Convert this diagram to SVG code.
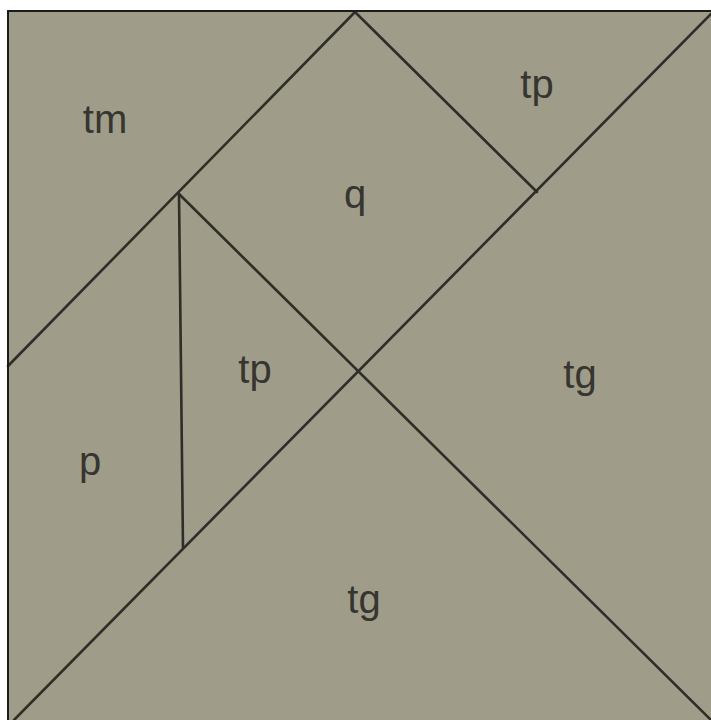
<svg xmlns="http://www.w3.org/2000/svg" width="711" height="720" viewBox="0 0 711 720">
<style>
.pc{fill:#9f9d8a;stroke:none}
.ln{stroke:#2e2d27;stroke-width:2.6;fill:none;stroke-linecap:round}
.bd{stroke:#1c1c1a;stroke-width:2;fill:none}
.lb{font-family:"Liberation Sans",Arial,sans-serif;font-size:40px;fill:#36352f;text-anchor:middle}
</style>
<rect x="0" y="0" width="711" height="720" fill="#ffffff"/>
<rect x="8" y="11" width="703" height="709" fill="#9f9d8a"/>
<g id="tm"><polygon class="pc" points="8,11 355,11 8,366"/><text class="lb" x="105" y="133">tm</text></g>
<g id="q"><polygon class="pc" points="355,12 537,192 358,372 179,194"/><text class="lb" x="355" y="208">q</text></g>
<g id="tp-top"><polygon class="pc" points="355,11 711,11 537,192"/><text class="lb" x="537" y="98">tp</text></g>
<g id="tp-mid"><polygon class="pc" points="179,194 358,372 183,548"/><text class="lb" x="255" y="383">tp</text></g>
<g id="tg-right"><polygon class="pc" points="711,11 711,720 358,372"/><text class="lb" x="580" y="388">tg</text></g>
<g id="tg-bottom"><polygon class="pc" points="358,372 711,720 12,720"/><text class="lb" x="364" y="613">tg</text></g>
<g id="p"><polygon class="pc" points="8,366 179,194 183,548 12,720 8,720"/><text class="lb" x="90" y="475">p</text></g>
<g id="connectors">
<line class="ln" x1="8" y1="366" x2="355" y2="12"/>
<line class="ln" x1="355" y1="12" x2="537" y2="192"/>
<line class="ln" x1="711" y1="14" x2="14" y2="720"/>
<line class="ln" x1="179" y1="194" x2="711" y2="720"/>
<line class="ln" x1="179" y1="194" x2="183" y2="548"/>
</g>
<polyline class="bd" points="8,720 8,11 711,11"/>
</svg>
